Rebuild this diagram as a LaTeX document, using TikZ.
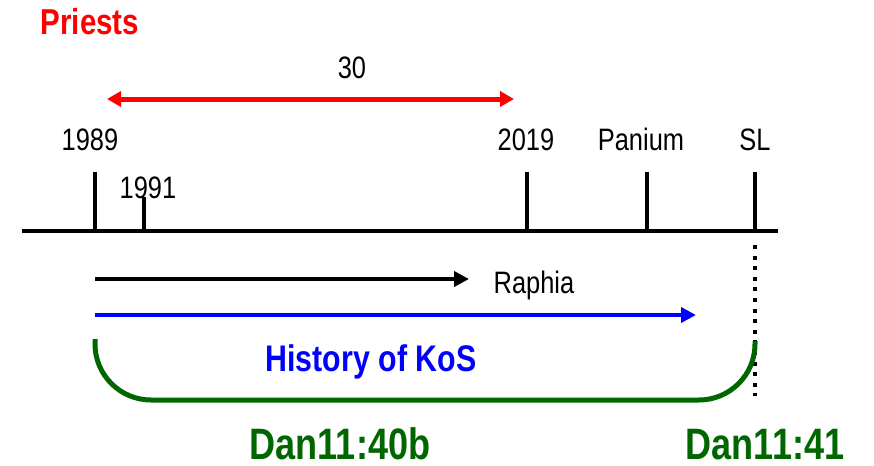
\documentclass[tikz,border=0pt]{standalone}
\usepackage{fontspec}
\setmainfont[FakeStretch=0.82]{Liberation Sans}
\usetikzlibrary{arrows.meta}
\definecolor{redx}{rgb}{1,0,0}
\definecolor{bluex}{rgb}{0,0,1}
\definecolor{grx}{rgb}{0,0.4,0}

\begin{document}
\begin{tikzpicture}[x=0.5pt,y=-0.5pt,
        lbl/.style={anchor=base,inner sep=0pt,font=\fontsize{15.5}{18}\selectfont},
        big/.style={anchor=base,inner sep=0pt,font=\fontsize{18.5}{22}\selectfont\bfseries},
        tick/.style={line width=2pt},
        tip/.style={-{Triangle[length=7.5pt,width=7.5pt]}}]
            \useasboundingbox (0,0) rectangle (874,466);

            % time line
            \coordinate (axl) at (22,231);
            \coordinate (axr) at (778,231);
            \draw [line width=2pt] (axl) -- (axr);
            \foreach \x/\lx/\t in {95/90/1989,527/526/2019,647/641/Panium,755/755/SL} {
                \coordinate (top\t) at (\x,172);
                \coordinate (bot\t) at (\x,231);
                \draw [tick] (bot\t) -- (top\t);
                \node [lbl] (lbl\t) at (\lx,150) {\t};
            }
            \coordinate (top1991) at (144,197);
            \coordinate (bot1991) at (144,231);
            \draw [tick] (bot1991) -- (top1991);
            \node [lbl] (lbl1991) at (148,198) {1991};

            % priests
            \node [big,redx,font=\fontsize{18}{21}\selectfont\bfseries] (priests) at (90,34) {Priests};
            \coordinate (pl) at (107,99);
            \coordinate (pr) at (514,99);
            \draw [redx,line width=2.5pt,{Triangle[length=7pt,width=7.5pt]}-{Triangle[length=7pt,width=7.5pt]}] (pl) -- (pr);
            \node [lbl] (thirty) at (352,78) {30};

            % arrows under the line
            \coordinate (ka) at (95,279);
            \coordinate (kb) at (469,279);
            \draw [tip,line width=2pt] (ka) -- (kb);
            \node [lbl] (raphia) at (534,293) {Raphia};
            \coordinate (ba) at (95,315);
            \coordinate (bb) at (696,315);
            \draw [tip,bluex,line width=2pt] (ba) -- (bb);
            \node [big,bluex] (kos) at (371,371) {History of KoS};

            % bracket and SL marker
            \coordinate (sla) at (755,245);
            \coordinate (slb) at (755,396);
            \draw [line width=2pt,dash pattern=on 2pt off 3.3pt] (sla) -- (slb);
            \draw [grx,line width=2.5pt,rounded corners=28pt]
                (95,339) -- (95,400) -- (755,400) -- (755,341);

            \node [big,grx,font=\fontsize{22}{26}\selectfont\bfseries] (dana) at (340,459) {Dan11:40b};
            \node [big,grx,font=\fontsize{22}{26}\selectfont\bfseries] (danb) at (765,459) {Dan11:41};
\end{tikzpicture}
\end{document}
